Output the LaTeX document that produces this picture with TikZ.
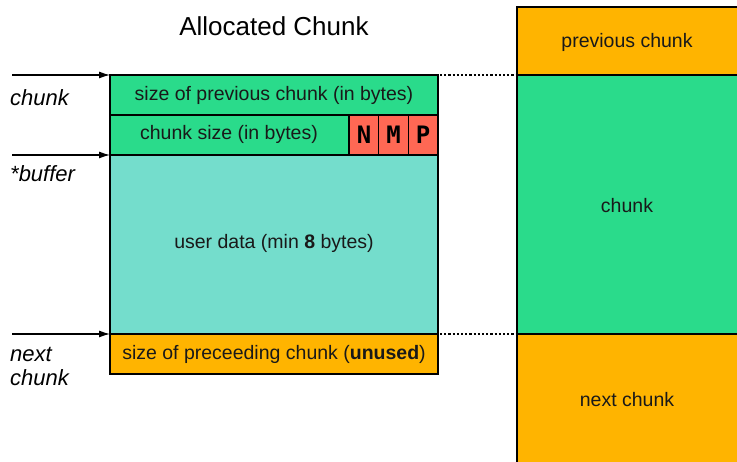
\documentclass[tikz,border=0pt]{standalone}
\usepackage{fontspec}
\setmainfont{Liberation Sans}
\newfontfamily\monob{DejaVu Sans Mono}
\usetikzlibrary{arrows.meta}
\definecolor{cgreen}{HTML}{2ADB8B}
\definecolor{cteal}{HTML}{74DDCC}
\definecolor{corange}{HTML}{FFB400}
\definecolor{cred}{HTML}{FF6854}
\begin{document}
\begin{tikzpicture}[x=1pt,y=-1pt,
  cell/.style={draw=black,line width=1.2pt,inner sep=0pt},
  lbl/.style={font=\fontsize{19.5}{22}\selectfont,text=black!90},
  flag/.style={cell,fill=cred,font=\monob\bfseries\fontsize{24}{24}\selectfont},
  ptr/.style={-{Latex[length=11pt,width=7pt]},line width=1.1pt},
  side/.style={font=\itshape\fontsize{22}{24}\selectfont,anchor=west,align=left,inner sep=0pt},
  dots/.style={dotted,line width=2.2pt}]
\useasboundingbox (0,0) rectangle (737,462);
% title
\node[font=\fontsize{26}{28}\selectfont] (title) at (274,26) {Allocated Chunk};
% left structure
\path[cell,fill=cgreen] (110,75) rectangle (438,115);
\node[lbl] (r1) at (274,95) {size of previous chunk (in bytes)};
\path[cell,fill=cgreen] (110,115) rectangle (349,155);
\node[lbl] (r2) at (229,134) {chunk size (in bytes)};
\node[flag,minimum width=29.5pt,minimum height=40pt] (N) at (364,135) {N};
\node[flag,minimum width=29.5pt,minimum height=40pt] (M) at (393.5,135) {M};
\node[flag,minimum width=29.5pt,minimum height=40pt] (P) at (423,135) {P};
\path[cell,fill=cteal] (110,155) rectangle (438,334);
\node[lbl] (ud) at (274,243) {user data (min \textbf{8} bytes)};
\path[cell,fill=corange] (110,334) rectangle (438,374);
\node[lbl] (r4) at (274,354) {size of preceeding chunk (\textbf{unused})};
\draw[line width=2.4pt] (110,75) rectangle (438,374);
% pointers
\coordinate (a1) at (12,75); \coordinate (b1) at (110,75);
\coordinate (a2) at (12,155); \coordinate (b2) at (110,155);
\coordinate (a3) at (12,334); \coordinate (b3) at (110,334);
\draw[ptr] (a1) -- (b1);
\draw[ptr] (a2) -- (b2);
\draw[ptr] (a3) -- (b3);
\node[side] (l1) at (10,98) {chunk};
\node[side] (l2) at (10,174) {*buffer};
\node[side] (l3) at (10,366) {next\\chunk};
% right column
\path[cell,line width=2.4pt,fill=corange] (517,7) rectangle (745,75);
\node[lbl] (pc) at (627,42) {previous chunk};
\path[cell,line width=2.4pt,fill=cgreen] (517,75) rectangle (745,334);
\node[lbl] (ch) at (627,206) {chunk};
\path[cell,line width=2.4pt,fill=corange] (517,334) rectangle (745,470);
\node[lbl] (nc) at (627,400) {next chunk};
% dotted links
\coordinate (d1) at (440,75); \coordinate (e1) at (516,75);
\coordinate (d2) at (440,334); \coordinate (e2) at (516,334);
\draw[dots] (d1) -- (e1);
\draw[dots] (d2) -- (e2);
\end{tikzpicture}
\end{document}
